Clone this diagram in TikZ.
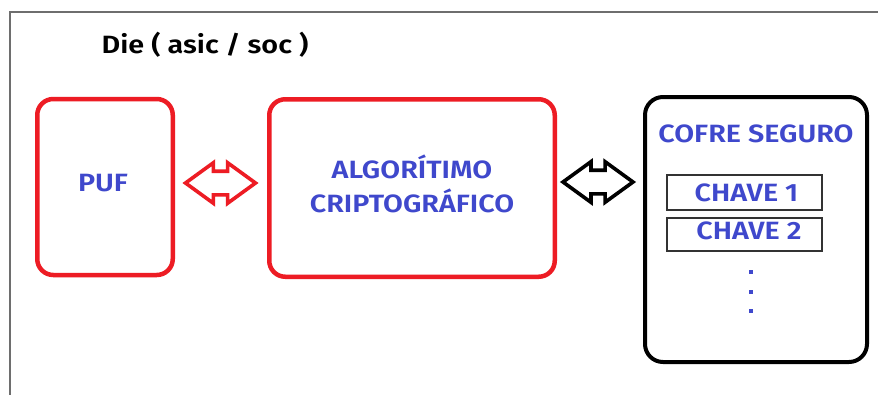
\documentclass[tikz,border=0pt]{standalone}
\usepackage{fontspec}
\setmainfont{Fira Sans}[BoldFont={Fira Sans SemiBold}, FakeStretch=1.15]
\usetikzlibrary{shapes.arrows}
\definecolor{pred}{RGB}{237,28,36}
\definecolor{pblue}{RGB}{63,72,204}
\definecolor{framegray}{RGB}{110,110,110}
\begin{document}
\begin{tikzpicture}[x=1pt,y=-1pt,
  redbox/.style={draw=pred, line width=4.5pt, rounded corners=16pt, rectangle, inner sep=0pt},
  safebox/.style={draw=black, line width=4pt, rounded corners=18pt, rectangle, inner sep=0pt},
  keybox/.style={draw=black!80, line width=1.3pt, rectangle, inner sep=0pt, minimum width=155pt},
  lbl/.style={text=pblue, font=\fontsize{25}{34}\selectfont\bfseries, align=center, inner sep=0pt},
  title/.style={text=black, font=\fontsize{25}{26}\selectfont\bfseries, inner sep=0pt},
  darrow/.style={double arrow, draw, line width=3.6pt, fill=white, minimum height=70pt,
    double arrow head extend=8.5pt, double arrow tip angle=72, inner xsep=0pt, inner ysep=10pt},
  dotmark/.style={fill=pblue, minimum size=3.2pt, inner sep=0pt, rectangle},
  framepen/.style={draw=framegray, line width=2pt}
]
\useasboundingbox (0,0) rectangle (878,394);
\fill[white] (0,0) rectangle (878,394);

% die outline (only the top and left edges are visible)
\coordinate (fbot) at (10,395);
\coordinate (fcorner) at (10,12);
\coordinate (fright) at (878,12);
\draw[framepen] (fbot) -- (fcorner) -- (fright);

\node[title] (die) at (205,45) {Die ( asic / soc )};

% main blocks
\node[redbox, minimum width=135.5pt, minimum height=176pt] (puf) at (105,187) {};
\node[lbl] (puflbl) at (103,183) {PUF};

\node[redbox, minimum width=285.5pt, minimum height=177.5pt] (alg) at (412,188) {};
\node[lbl] (alglbl) at (412,183.5) {ALGORÍTIMO\\CRIPTOGRÁFICO};

\node[safebox, minimum width=222pt, minimum height=265pt] (cofre) at (756,229.5) {};
\node[lbl] (cofrelbl) at (756,134) {COFRE SEGURO};

\node[keybox, minimum height=35pt] (k1) at (744.5,192.5) {};
\node[lbl] (k1lbl) at (746.5,192.5) {CHAVE 1};
\node[keybox, minimum height=33pt] (k2) at (744.5,234.5) {};
\node[lbl] (k2lbl) at (749,231) {CHAVE 2};

\node[dotmark] (d1) at (751,272) {};
\node[dotmark] (d2) at (751,292) {};
\node[dotmark] (d3) at (751,311) {};

% bidirectional links
\node[darrow, draw=pred] (a1) at (220.5,183) {};
\node[darrow, draw=black] (a2) at (598,182) {};
\end{tikzpicture}
\end{document}
